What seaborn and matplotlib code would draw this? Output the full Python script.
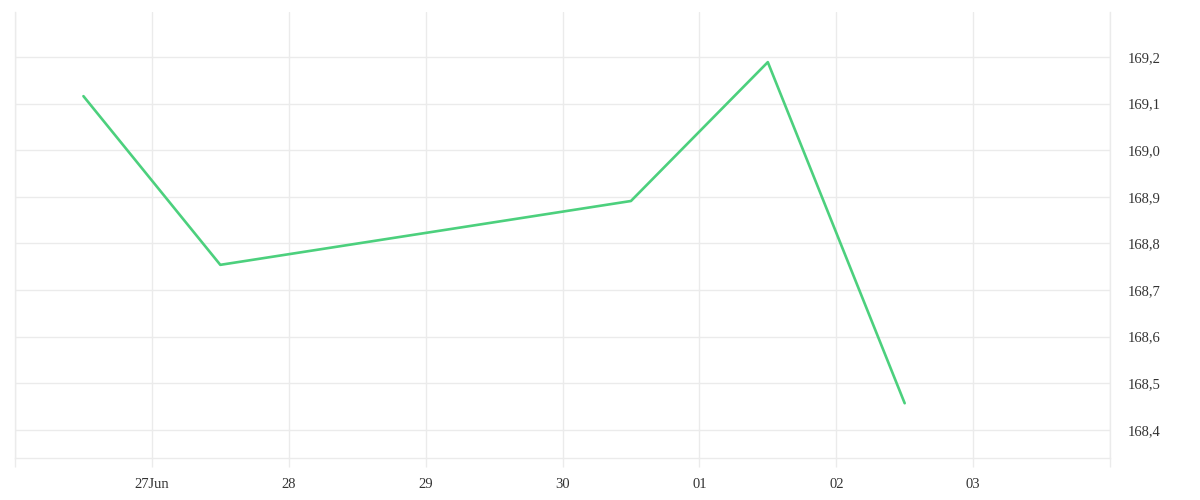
import pandas as pd
import matplotlib
matplotlib.use("Agg")
import matplotlib.pyplot as plt
import matplotlib.dates as mdates
from matplotlib.ticker import FuncFormatter, FixedLocator
import seaborn as sns

# data
dates = ["2025-06-26 12:00", "2025-06-27 12:00", "2025-06-30 12:00",
         "2025-07-01 12:00", "2025-07-02 12:00"]
prices = [169.116, 168.754, 168.891, 169.189, 168.457]
tick_days = ["2025-06-26", "2025-06-27", "2025-06-28", "2025-06-29", "2025-06-30",
             "2025-07-01", "2025-07-02", "2025-07-03", "2025-07-04"]
tick_labels = ["", "27Jun", "28", "29", "30", "01", "02", "03", ""]
y_ticks = [168.4, 168.5, 168.6, 168.7, 168.8, 168.9, 169.0, 169.1, 169.2]

df = pd.DataFrame({"date": pd.to_datetime(dates), "price": prices})

sns.set_theme(style="white")
plt.rcParams['font.family'] = ['Liberation Serif', 'DejaVu Serif']

grid_c = "#ebebeb"
text_c = "#333333"

fig = plt.figure(figsize=(12, 5), dpi=100)
ax = fig.add_axes([0.0125, 0.084, 0.9125, 0.892])

sns.lineplot(data=df, x="date", y="price", ax=ax, color="#4cd07d", linewidth=1.9)

tick_dt = pd.to_datetime(tick_days)
ax.set_xlim(tick_dt[0], tick_dt[-1])
ax.xaxis.set_major_locator(FixedLocator(mdates.date2num(tick_dt)))
ax.set_xticklabels(tick_labels)
ax.set_ylim(168.3395, 169.2966)
ax.set_yticks(y_ticks)
ax.yaxis.set_major_formatter(FuncFormatter(lambda v, p: f"{v:.1f}".replace(".", ",")))
ax.yaxis.tick_right()

ax.grid(True, color=grid_c, linewidth=1)
ax.set_axisbelow(True)
for side in ["left", "right", "bottom"]:
    ax.spines[side].set_color(grid_c)
    ax.spines[side].set_linewidth(1)
ax.spines["top"].set_visible(False)

ax.tick_params(axis="x", length=6.5, color=grid_c, width=1, pad=8,
               labelsize=10.5, labelcolor=text_c, bottom=True)
ax.tick_params(axis="y", length=0, pad=13, labelsize=10.5, labelcolor=text_c,
               right=True, left=False)
ax.set_xlabel("")
ax.set_ylabel("")

fig.savefig("out.png", dpi=100)
